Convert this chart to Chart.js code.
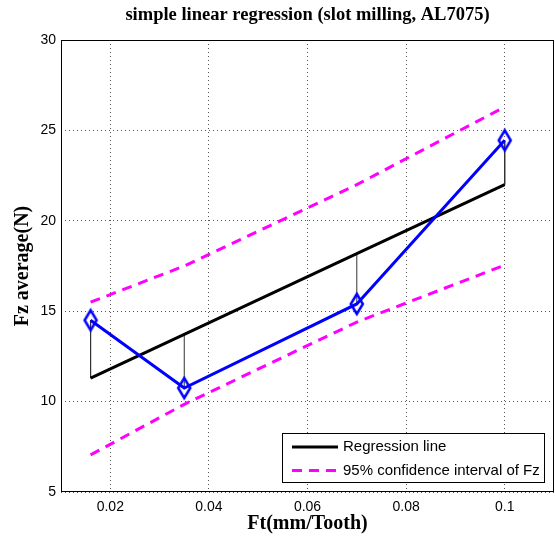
<!DOCTYPE html>
<html lang="en">
<head>
    <meta charset="UTF-8">
    <title>simple linear regression (slot milling, AL7075)</title>
    <script src="https://cdn.jsdelivr.net/npm/chart.js"></script>
    <style>
        body {
            margin: 0;
            padding: 0;
            background: #fff;
        }
    </style>
</head>
<body>
    <canvas id="chartCanvas" width="555" height="538"></canvas>

    <script>
        // values
        const ft = [0.016, 0.035, 0.07, 0.1];
        const fzAverage = [14.5, 10.75, 15.4, 24.45];
        const fzRegression = [11.3, 13.72, 18.18, 22.0];
        const ciUpper = [15.5, 17.5, 22.0, 26.3];
        const ciLower = [7.05, 9.85, 14.4, 17.55];
        const xTicks = [0.02, 0.04, 0.06, 0.08, 0.1];
        const yTicks = [5, 10, 15, 20, 25, 30];

        const pts = ys => ft.map((x, i) => ({ x: x, y: ys[i] }));

        // residual sticks: point -> regression line, broken by nulls
        const residuals = [];
        ft.forEach((x, i) => {
            residuals.push({ x: x, y: fzAverage[i] });
            residuals.push({ x: x, y: fzRegression[i] });
            residuals.push({ x: x, y: null });
        });

        // matlab-like tall diamond marker
        const diamond = document.createElement('canvas');
        diamond.width = 18;
        diamond.height = 26;
        const dctx = diamond.getContext('2d');
        dctx.strokeStyle = '#0000ff';
        dctx.lineWidth = 2.5;
        dctx.beginPath();
        dctx.moveTo(9, 3);
        dctx.lineTo(15, 13);
        dctx.lineTo(9, 23);
        dctx.lineTo(3, 13);
        dctx.closePath();
        dctx.stroke();

        const frameAndLegend = {
            id: 'frameAndLegend',
            afterDraw(chart) {
                const { ctx, chartArea } = chart;
                ctx.save();
                ctx.setLineDash([]);
                ctx.strokeStyle = '#000';
                ctx.lineWidth = 1;
                const l = Math.round(chartArea.left) + 0.5, t = Math.round(chartArea.top) + 0.5;
                const r = Math.round(chartArea.right) - 0.5, b = Math.round(chartArea.bottom) - 0.5;
                ctx.strokeRect(l, t, r - l, b - t);

                const items = chart.data.datasets.filter(d => d.inLegend);
                const w = 262, h = 49;
                const x = Math.round(chartArea.right) - 10 - w;
                const y = Math.round(chartArea.bottom) - 10 - h;
                ctx.fillStyle = '#fff';
                ctx.fillRect(x, y, w, h);
                ctx.strokeRect(x + 0.5, y + 0.5, w, h);
                ctx.font = '15px "Liberation Sans", Arial, sans-serif';
                ctx.textBaseline = 'middle';
                items.forEach((d, i) => {
                    const cy = y + 14 + i * 23.5;
                    ctx.strokeStyle = d.borderColor;
                    ctx.lineWidth = d.borderWidth;
                    ctx.setLineDash(d.borderDash || []);
                    ctx.beginPath();
                    ctx.moveTo(x + 10, cy);
                    ctx.lineTo(x + 56, cy);
                    ctx.stroke();
                    ctx.fillStyle = '#000';
                    ctx.fillText(d.label, x + 61, cy);
                });
                ctx.restore();
            }
        };

        const tickFont = { family: '"Liberation Sans", Arial, sans-serif', size: 14 };
        const titleFont = { family: '"Liberation Serif", "Times New Roman", serif', size: 20, weight: 'bold', lineHeight: 1.2 };

        new Chart(document.getElementById('chartCanvas'), {
            type: 'line',
            data: {
                datasets: [
                    {
                        label: 'Fz average',
                        data: pts(fzAverage),
                        borderColor: '#0000ff',
                        borderWidth: 3,
                        pointStyle: diamond,
                        pointRadius: 7,
                        order: 0
                    },
                    {
                        label: 'Regression line',
                        inLegend: true,
                        data: pts(fzRegression),
                        borderColor: '#000000',
                        borderWidth: 3,
                        pointRadius: 0,
                        order: 1
                    },
                    {
                        label: 'residuals',
                        data: residuals,
                        borderColor: '#333333',
                        borderWidth: 1,
                        pointRadius: 0,
                        spanGaps: false,
                        order: 2
                    },
                    {
                        label: '95% confidence interval of Fz',
                        inLegend: true,
                        data: pts(ciUpper),
                        borderColor: '#ff00ff',
                        borderWidth: 3,
                        borderDash: [10, 7],
                        pointRadius: 0,
                        order: 3
                    },
                    {
                        label: 'lower bound',
                        data: pts(ciLower),
                        borderColor: '#ff00ff',
                        borderWidth: 3,
                        borderDash: [10, 7],
                        pointRadius: 0,
                        order: 3
                    }
                ]
            },
            options: {
                responsive: false,
                animation: false,
                layout: { autoPadding: false, padding: { left: 0, right: 1, top: 0, bottom: 0 } },
                elements: { line: { tension: 0, fill: false } },
                plugins: {
                    legend: { display: false },
                    tooltip: { enabled: false },
                    title: {
                        display: true,
                        fullSize: false,
                        text: 'simple linear regression (slot milling, AL7075)',
                        color: '#000',
                        font: { family: '"Liberation Serif", "Times New Roman", serif', size: 18.5, weight: 'bold', lineHeight: 1.2 },
                        padding: { top: 3.9, bottom: 13.9 }
                    }
                },
                scales: {
                    x: {
                        type: 'linear',
                        min: 0.01,
                        max: 0.11,
                        afterBuildTicks: s => { s.ticks = xTicks.map(v => ({ value: v })); },
                        afterFit: s => { s.height = 46; s.paddingLeft = 0; s.paddingRight = 0; },
                        ticks: {
                            color: '#000',
                            font: tickFont,
                            padding: 7,
                            maxRotation: 0,
                            callback: v => String(v)
                        },
                        grid: { color: '#555', lineWidth: 1, drawTicks: false },
                        border: { display: false, dash: [1, 3] },
                        title: {
                            display: true,
                            text: 'Ft(mm/Tooth)',
                            color: '#000',
                            font: titleFont,
                            padding: { top: 0, bottom: 2 }
                        }
                    },
                    y: {
                        type: 'linear',
                        min: 5,
                        max: 30,
                        afterBuildTicks: s => { s.ticks = yTicks.map(v => ({ value: v })); },
                        afterFit: s => { s.width = 61; s.paddingTop = 0; s.paddingBottom = 0; },
                        ticks: {
                            color: '#000',
                            font: tickFont,
                            padding: 5,
                            callback: v => String(v)
                        },
                        grid: { color: '#555', lineWidth: 1, drawTicks: false },
                        border: { display: false, dash: [1, 3] },
                        title: {
                            display: true,
                            text: 'Fz average(N)',
                            color: '#000',
                            font: titleFont,
                            padding: { top: 11, bottom: 0 }
                        }
                    }
                }
            },
            plugins: [frameAndLegend]
        });
    </script>
</body>
</html>
